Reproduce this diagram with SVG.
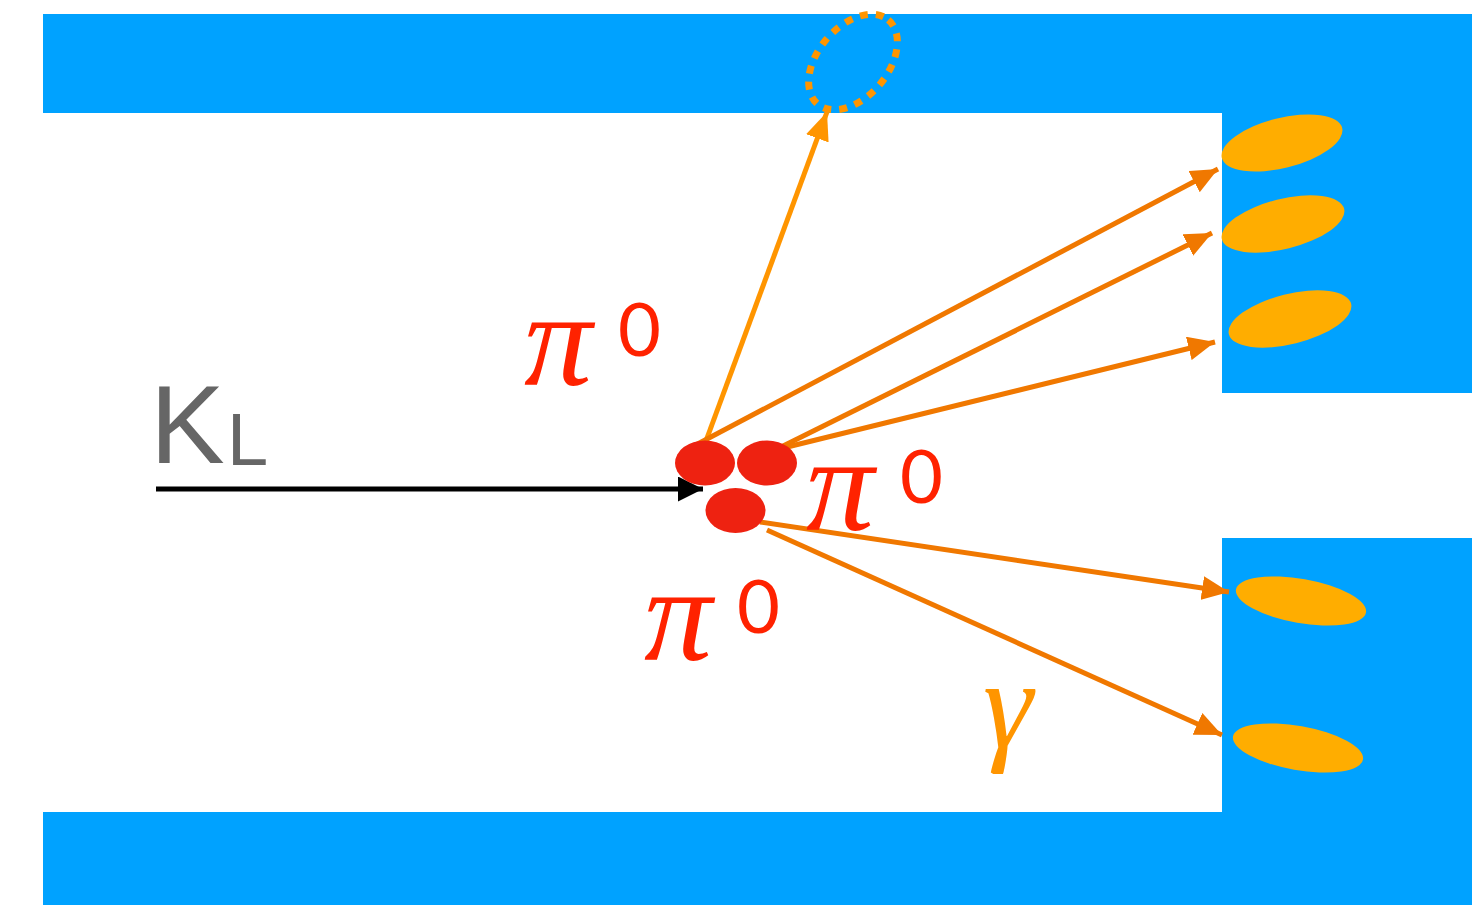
<svg xmlns="http://www.w3.org/2000/svg" width="1472" height="905" viewBox="0 0 1472 905">
<style>
.det{fill:#00A2FF}
.cal{fill:#FFAD00}
.pi0{fill:#EE2211}
.ln{stroke:#F07800;stroke-width:5;fill:none}
.lnl{stroke:#FF9500;stroke-width:5;fill:none}
.pi{font-family:"Liberation Serif",serif;font-style:italic;fill:#FF2200}
.zero{font-family:"Lato","Liberation Sans",sans-serif;font-weight:400;fill:#FF2200}
</style>
<defs>
<marker id="ah" viewBox="0 0 10 10" refX="10" refY="5" markerWidth="27" markerHeight="24" preserveAspectRatio="none" markerUnits="userSpaceOnUse" orient="auto"><path d="M0,0 L10,5 L0,10 z" fill="#F07800"/></marker>
<marker id="ahl" viewBox="0 0 10 10" refX="10" refY="5" markerWidth="28" markerHeight="24" preserveAspectRatio="none" markerUnits="userSpaceOnUse" orient="auto"><path d="M0,0 L10,5 L0,10 z" fill="#FF9500"/></marker>
<marker id="ahk" viewBox="0 0 10 10" refX="10" refY="5" markerWidth="25" markerHeight="25" preserveAspectRatio="none" markerUnits="userSpaceOnUse" orient="auto"><path d="M0,0 L10,5 L0,10 z" fill="#000"/></marker>
</defs>
<g id="detector">
<rect class="det" x="43" y="14" width="1429" height="99"/>
<rect class="det" x="1222" y="14" width="250" height="379"/>
<rect class="det" x="1222" y="538" width="250" height="367"/>
<rect class="det" x="43" y="812" width="1429" height="93"/>
</g>
<g id="calorimeter-hits">
<ellipse class="cal" cx="1282" cy="143" rx="62" ry="25" transform="rotate(-14 1282 143)"/>
<ellipse class="cal" cx="1283" cy="224" rx="63" ry="25" transform="rotate(-14 1283 224)"/>
<ellipse class="cal" cx="1290" cy="319" rx="63" ry="25" transform="rotate(-14 1290 319)"/>
<ellipse class="cal" cx="1301" cy="601" rx="66" ry="22" transform="rotate(10 1301 601)"/>
<ellipse class="cal" cx="1298" cy="748" rx="66" ry="22" transform="rotate(10 1298 748)"/>
</g>
<g id="veto-hit">
<ellipse cx="853" cy="62" rx="55" ry="35" transform="rotate(-50 853 62)" fill="none" stroke="#FF9500" stroke-width="7" stroke-dasharray="8 8"/>
</g>
<g id="connectors">
<line x1="156" y1="489" x2="703" y2="489" stroke="#000" stroke-width="5" marker-end="url(#ahk)"/>
<line class="lnl" x1="703" y1="449" x2="827" y2="112" marker-end="url(#ahl)"/>
<line class="ln" x1="690" y1="448" x2="1218" y2="169" marker-end="url(#ah)"/>
<line class="ln" x1="775" y1="450" x2="1212" y2="233" marker-end="url(#ah)"/>
<line class="ln" x1="775" y1="450" x2="1215" y2="342" marker-end="url(#ah)"/>
<line class="ln" x1="760" y1="522" x2="1229" y2="592" marker-end="url(#ah)"/>
<line class="ln" x1="767" y1="530" x2="1222" y2="735" marker-end="url(#ah)"/>
</g>
<g id="pions">
<ellipse class="pi0" cx="705" cy="463" rx="30" ry="22.5"/>
<ellipse class="pi0" cx="767" cy="463" rx="30" ry="22.5"/>
<ellipse class="pi0" cx="735.5" cy="510.5" rx="30" ry="22.5"/>
</g>
<g id="labels">
<text x="150" y="463" font-family="Liberation Sans, sans-serif" font-size="112" fill="#666">K</text>
<text x="227" y="465" font-family="Liberation Sans, sans-serif" font-size="74" fill="#666">L</text>
<text class="pi" x="524" y="385" font-size="136">π</text>
<text class="zero" x="618" y="356" font-size="74">0</text>
<text class="pi" x="806" y="530" font-size="136">π</text>
<text class="zero" x="900" y="503" font-size="74">0</text>
<text class="pi" x="644" y="660" font-size="136">π</text>
<text class="zero" x="737" y="633" font-size="74">0</text>
<text x="983" y="747" font-family="Liberation Serif, serif" font-style="italic" font-size="126" fill="#FF9500">γ</text>
</g>
</svg>
